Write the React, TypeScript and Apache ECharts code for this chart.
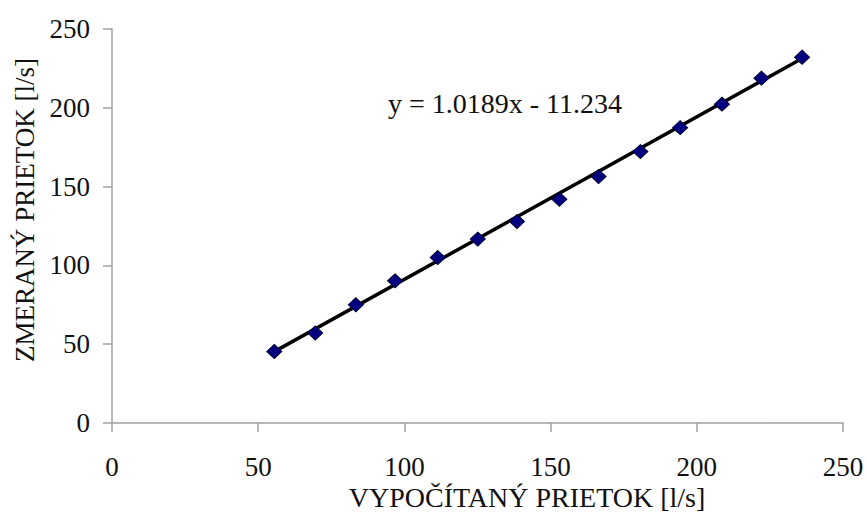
import React, { useEffect, useRef } from "react";
import * as echarts from "echarts";

const xValues = [55.5, 69.5, 83.4, 96.8, 111.4, 125.1, 138.5, 153.0, 166.4, 180.7, 194.3, 208.6, 222.1, 236.0];
const yValues = [45.4, 57.1, 75.0, 90.2, 105.0, 116.7, 127.8, 141.9, 156.4, 172.2, 187.4, 202.3, 218.8, 232.1];
const trendX = [55.5, 236.0];
const trendY = [45.3, 231.3];
const axisTicks = [0, 50, 100, 150, 200, 250];
const equationLabel = "y = 1.0189x - 11.234";
const xTitle = "VYPOČÍTANÝ PRIETOK [l/s]";
const yTitle = "ZMERANÝ PRIETOK [l/s]";

const FONT = "'Liberation Serif', 'Times New Roman', serif";

export default function App() {
  const ref = useRef<HTMLDivElement>(null);
  useEffect(() => {
    if (!ref.current) return;
    const chart = echarts.init(ref.current, null, { renderer: "svg" });
    const points = xValues.map((x, i) => [x, yValues[i]]);
    const trend = trendX.map((x, i) => [x, trendY[i]]);
    const axisCommon = {
      type: "value" as const,
      min: axisTicks[0],
      max: axisTicks[axisTicks.length - 1],
      interval: 50,
      splitLine: { show: false },
      axisLine: { show: true, lineStyle: { color: "#a0a0a0", width: 1.5 } },
      axisTick: { show: true, inside: false, length: 9, lineStyle: { color: "#a0a0a0", width: 1.5 } },
    };
    chart.setOption({
      animation: false,
      backgroundColor: "#ffffff",
      grid: { left: 112, right: 24, top: 29, bottom: 92 },
      xAxis: {
        ...axisCommon,
        axisLabel: { margin: 30, fontFamily: FONT, fontSize: 27, color: "#111" },
      },
      yAxis: {
        ...axisCommon,
        axisLabel: { margin: 22, fontFamily: FONT, fontSize: 27, color: "#111" },
      },
      graphic: [
        {
          type: "text",
          left: 388,
          top: 89,
          style: { text: equationLabel, font: `28px ${FONT}`, fill: "#111" },
        },
        {
          type: "text",
          x: 527,
          y: 497,
          style: { text: xTitle, font: `28px ${FONT}`, fill: "#111", align: "center", verticalAlign: "middle" },
        },
        {
          type: "text",
          x: 25,
          y: 210,
          rotation: Math.PI / 2,
          style: { text: yTitle, font: `27px ${FONT}`, fill: "#111", align: "center", verticalAlign: "middle" },
        },
      ],
      series: [
        {
          type: "line",
          data: trend,
          showSymbol: false,
          symbol: "none",
          lineStyle: { color: "#000000", width: 3.5 },
          z: 2,
        },
        {
          type: "scatter",
          data: points,
          symbol: "diamond",
          symbolSize: [15, 14],
          itemStyle: { color: "#000080", borderColor: "#000033", borderWidth: 1, opacity: 1 },
          z: 3,
        },
      ],
    });
    return () => chart.dispose();
  }, []);
  return <div ref={ref} style={{ position: "fixed", left: 0, top: 0, width: 867, height: 515 }} />;
}
